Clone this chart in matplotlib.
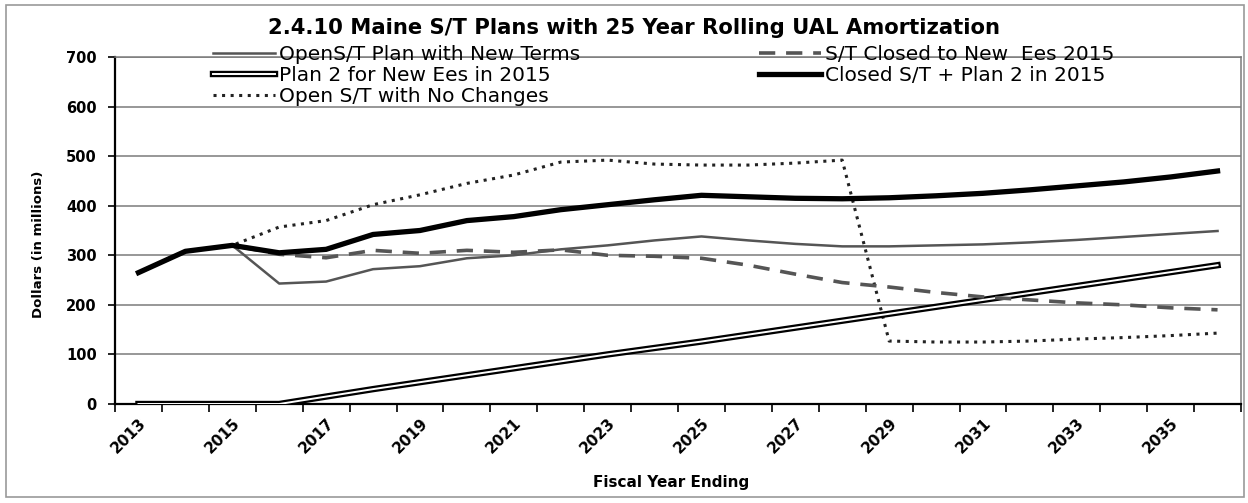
import numpy as np
import matplotlib
matplotlib.use("Agg")
import matplotlib.pyplot as plt
import matplotlib.patheffects as pe
from matplotlib.patches import Rectangle

# values (dollars in millions)
years = list(range(2013, 2037))
open_new_terms = [265, 308, 320, 243, 247, 272, 278, 294, 300, 312, 320, 330,
                  338, 330, 323, 318, 318, 320, 322, 326, 331, 337, 343, 349]
st_closed = [265, 308, 320, 302, 295, 310, 304, 310, 306, 311, 300, 298,
             294, 280, 262, 245, 236, 225, 216, 210, 204, 200, 194, 190]
plan2_new = [0, 0, 0, 0, 15, 30, 44, 58, 72, 86, 100, 113,
             126, 140, 154, 168, 182, 196, 210, 224, 238, 252, 266, 280]
closed_plus_plan2 = [265, 308, 320, 305, 312, 342, 350, 370, 378, 392, 402, 412,
                     421, 418, 415, 414, 416, 420, 425, 432, 440, 448, 458, 470]
open_no_changes = [265, 308, 320, 357, 370, 402, 422, 445, 462, 488, 492, 484,
                   482, 482, 486, 492, 127, 125, 125, 127, 131, 134, 138, 143]

W, H = 1248, 503
fig = plt.figure(figsize=(W / 100, H / 100), dpi=100)
fig.patch.set_facecolor("white")
fig.patches.append(Rectangle((6 / W, 1 - 497 / H), 1238 / W, 492 / H,
                             transform=fig.transFigure, fill=False,
                             edgecolor="#9a9a9a", linewidth=1.2))

ax = fig.add_axes([115 / W, 1 - 404 / H, 1126 / W, 347 / H])
x = np.arange(len(years))

ax.plot(x, open_no_changes, color="#222222", lw=2.2, linestyle=(0, (1, 1.8)),
        label="Open S/T with No Changes", zorder=3)
ax.plot(x, plan2_new, color="white", lw=1.4,
        path_effects=[pe.Stroke(linewidth=4.6, foreground="black"), pe.Normal()],
        label="Plan 2 for New Ees in 2015", zorder=4)
ax.plot(x, st_closed, color="#555555", lw=2.6, linestyle=(0, (4.5, 3)),
        label="S/T Closed to New  Ees 2015", zorder=5)
ax.plot(x, open_new_terms, color="#555555", lw=1.8,
        label="OpenS/T Plan with New Terms", zorder=6)
ax.plot(x, closed_plus_plan2, color="black", lw=3.8,
        label="Closed S/T + Plan 2 in 2015", zorder=7)

ax.set_ylim(0, 700)
ax.set_xlim(-0.5, len(years) - 0.5)
ax.set_yticks(range(0, 701, 100))
ax.grid(axis="y", color="#7a7a7a", lw=1.1)
ax.set_axisbelow(True)

for s in ["top", "right"]:
    ax.spines[s].set_color("#7a7a7a")
    ax.spines[s].set_linewidth(1.1)
for s in ["left", "bottom"]:
    ax.spines[s].set_color("black")
    ax.spines[s].set_linewidth(1.6)

ax.set_xticks(x[::2])
ax.set_xticklabels([str(y) for y in years[::2]], rotation=45, ha="right",
                   rotation_mode="anchor", fontsize=11, fontweight="bold")
ax.set_xticks(np.arange(-0.5, len(years), 1), minor=True)
ax.tick_params(axis="x", which="major", length=0, pad=8)
ax.tick_params(axis="x", which="minor", length=6, width=1.2, direction="out")
ax.tick_params(axis="y", length=5, width=1.2, pad=8)
for lab in ax.get_yticklabels():
    lab.set_fontsize(10.5)
    lab.set_fontweight("bold")

ax.set_xlabel("Fiscal Year Ending", fontsize=11, fontweight="bold")
ax.xaxis.set_label_coords(0.494, -0.205)
ax.set_ylabel("Dollars (in millions)", fontsize=9.5, fontweight="bold")
ax.yaxis.set_label_coords(-0.062, 0.46)

fig.text(634 / W, 1 - 28 / H,
         "2.4.10 Maine S/T Plans with 25 Year Rolling UAL Amortization",
         ha="center", va="center", fontsize=15.2, fontweight="bold")

handles, labels = ax.get_legend_handles_labels()
order = ["OpenS/T Plan with New Terms", "Plan 2 for New Ees in 2015",
         "Open S/T with No Changes", "S/T Closed to New  Ees 2015",
         "Closed S/T + Plan 2 in 2015"]
hmap = dict(zip(labels, handles))
fig.legend([hmap[l] for l in order], order, ncols=2, frameon=False,
           loc="upper left", bbox_to_anchor=(213 / W, 1 - 45 / H),
           borderpad=0, borderaxespad=0, fontsize=14.5, labelspacing=0.1,
           handlelength=3.1, handletextpad=0.2, columnspacing=8.85)

fig.savefig("out.png", dpi=100)
